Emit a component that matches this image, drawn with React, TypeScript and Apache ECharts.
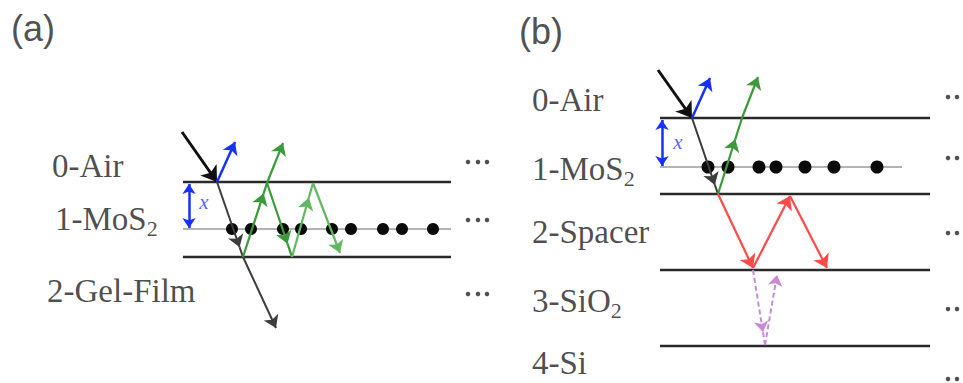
import React, { useEffect, useRef } from 'react';
import * as echarts from 'echarts';

// ---------- data (diagram coordinates, y grows downward) ----------
const panelTitles = ['(a)', '(b)'];
const panelTitleX = [11, 519];
const panelTitleY = [28, 31];

const layerLabelsA = ['0-Air', '1-MoS_2', '2-Gel-Film'];
const layerLabelXA = [52, 55, 47];
const layerLabelYA = [166, 219, 291];

const layerLabelsB = ['0-Air', '1-MoS_2', '2-Spacer', '3-SiO_2', '4-Si'];
const layerLabelXB = [532, 532, 532, 532, 532];
const layerLabelYB = [100, 169, 232, 301, 363];

const interfacesA = [182, 257];
const sheetA = 229;
const spanA = [183, 451];

const interfacesB = [118, 194, 270, 346];
const sheetB = 167;
const spanB = [660, 930];
const sheetSpanB = [660, 902];

const atomsA = [232, 251, 283, 301, 332, 351, 383, 402, 433];
const atomsB = [708, 728, 759, 776, 805, 834, 877];

const moreXA = [468, 478, 487];
const moreYA = [162, 220, 294];
const moreXB = [948, 957];
const moreYB = [97, 158, 233, 309, 379];

// segments: [x1, y1, x2, y2, arrowhead position along segment (0 none, 1 at end)]
type Seg = [number, number, number, number, number];
const incidentA: Seg[] = [[182, 132, 217, 182, 1]];
const transmitA: Seg[] = [[217, 182, 243, 257, 0.87], [243, 257, 276, 328, 1]];
const reflectA: Seg[] = [[217, 182, 235, 142, 1]];
const greenA1: Seg[] = [[243, 257, 267, 183, 0.86], [267, 183, 283, 143, 1], [267, 183, 292, 257, 0.82]];
const greenA2: Seg[] = [[292, 257, 313, 183, 0.8], [313, 183, 340, 253, 1]];
const thickA = [189, 184, 189, 228];
const thickLabelA = [204, 202];

const incidentB: Seg[] = [[658, 70, 692, 118, 1]];
const transmitB: Seg[] = [[692, 118, 718, 194, 0.88]];
const reflectB: Seg[] = [[692, 118, 710, 78, 1]];
const greenB: Seg[] = [[718, 194, 742, 118, 0.72], [742, 118, 758, 77, 1]];
const redB: Seg[] = [[718, 194, 753, 268, 1], [753, 268, 790, 196, 1], [790, 196, 827, 268, 1]];
const purpleB: Seg[] = [[753, 270, 765, 345, 0.83], [765, 345, 777, 275, 1]];
const thickB = [662, 120, 662, 166];
const thickLabelB = [678, 142];

// ---------- helpers ----------
function splitSegs(segs: Seg[]) {
  const headed: number[][][] = [];
  const plain: number[][][] = [];
  segs.forEach(([x1, y1, x2, y2, h]) => {
    if (h >= 1) headed.push([[x1, y1], [x2, y2]]);
    else if (h <= 0) plain.push([[x1, y1], [x2, y2]]);
    else {
      const mx = x1 + (x2 - x1) * h;
      const my = y1 + (y2 - y1) * h;
      headed.push([[x1, y1], [mx, my]]);
      plain.push([[mx, my], [x2, y2]]);
    }
  });
  return { headed, plain };
}

function raySeries(segs: Seg[], color: string, width: number, head: number, dashed = false): any[] {
  const { headed, plain } = splitSegs(segs);
  const base = {
    type: 'lines',
    coordinateSystem: 'cartesian2d',
    silent: true,
    z: 5,
    lineStyle: { color, width, opacity: 1, curveness: 0, type: dashed ? [5, 3] : 'solid' },
  };
  return [
    { ...base, symbol: ['none', 'arrow'], symbolSize: head, data: headed.map((c) => ({ coords: c })) },
    { ...base, symbol: 'none', data: plain.map((c) => ({ coords: c })) },
  ];
}

function hLines(ys: number[], span: number[], color: string, width: number): any {
  return {
    type: 'lines',
    coordinateSystem: 'cartesian2d',
    silent: true,
    z: 2,
    symbol: 'none',
    lineStyle: { color, width, opacity: 1 },
    data: ys.map((y) => ({ coords: [[span[0], y], [span[1], y]] })),
  };
}

function fmtLabel(name: string) {
  const i = name.indexOf('_');
  if (i < 0) return '{b|' + name + '}';
  return '{a|' + name.slice(0, i) + '}{s|' + name.slice(i + 1) + '}';
}

const serif = '"Liberation Serif", "Times New Roman", serif';

function labelSeries(names: string[], xs: number[], ys: number[]): any {
  return {
    type: 'scatter',
    silent: true,
    symbolSize: 0,
    z: 6,
    data: names.map((n, i) => [xs[i], ys[i], n]),
    label: {
      show: true,
      position: 'right',
      distance: 0,
      formatter: (p: any) => fmtLabel(p.data[2]),
      rich: {
        a: { fontFamily: serif, fontSize: 33, color: '#1e1e1e', lineHeight: 40, verticalAlign: 'middle' },
        b: { fontFamily: serif, fontSize: 33, color: '#1e1e1e', lineHeight: 30, verticalAlign: 'middle' },
        s: { fontFamily: serif, fontSize: 22, color: '#1e1e1e', lineHeight: 25, verticalAlign: 'bottom' },
      },
    },
  };
}

export default function App() {
  const ref = useRef<HTMLDivElement>(null);
  useEffect(() => {
    document.body.style.margin = '0';
    if (!ref.current) return;
    const chart = echarts.init(ref.current, undefined, { renderer: 'svg' });
    const series: any[] = [
      // interfaces
      hLines(interfacesA, spanA, '#2a2a2a', 2.3),
      hLines([sheetA], spanA, '#9a9a9a', 1.5),
      hLines(interfacesB, spanB, '#2a2a2a', 2.3),
      hLines([sheetB], sheetSpanB, '#9a9a9a', 1.5),
      // atoms
      {
        type: 'scatter', silent: true, z: 4, symbol: 'circle', symbolSize: 12,
        itemStyle: { color: '#0a0a0a', opacity: 1 },
        data: atomsA.map((x) => [x, sheetA]),
      },
      {
        type: 'scatter', silent: true, z: 4, symbol: 'circle', symbolSize: 13,
        itemStyle: { color: '#0a0a0a', opacity: 1 },
        data: atomsB.map((x) => [x, sheetB]),
      },
      // continuation dots
      {
        type: 'scatter', silent: true, z: 4, symbol: 'circle', symbolSize: 4.5,
        itemStyle: { color: '#505050', opacity: 1 },
        data: [
          ...moreYA.flatMap((y) => moreXA.map((x) => [x, y])),
          ...moreYB.flatMap((y) => moreXB.map((x) => [x, y])),
        ],
      },
      // rays panel a
      ...raySeries(incidentA, '#101010', 3, 15),
      ...raySeries(transmitA, '#3c3c3c', 2, 12),
      ...raySeries(reflectA, '#1530ff', 2.5, 12),
      ...raySeries(greenA1, '#3a9a3a', 2.2, 12),
      ...raySeries(greenA2, '#62b862', 2.2, 12),
      // rays panel b
      ...raySeries(incidentB, '#101010', 3, 15),
      ...raySeries(transmitB, '#3c3c3c', 2, 12),
      ...raySeries(reflectB, '#1530ff', 2.5, 12),
      ...raySeries(greenB, '#3a9a3a', 2.2, 12),
      ...raySeries(redB, '#ff4a4a', 2.2, 13),
      ...raySeries(purpleB, '#c88ad8', 2, 11, true),
      // thickness markers
      {
        type: 'lines', coordinateSystem: 'cartesian2d', silent: true, z: 5,
        symbol: ['arrow', 'arrow'], symbolSize: 10,
        lineStyle: { color: '#1530ff', width: 2.5, opacity: 1 },
        data: [thickA, thickB].map((t) => ({ coords: [[t[0], t[1]], [t[2], t[3]]] })),
      },
      {
        type: 'scatter', silent: true, symbolSize: 0, z: 6,
        data: [thickLabelA, thickLabelB],
        label: {
          show: true, position: 'inside', formatter: 'x',
          fontFamily: serif, fontStyle: 'italic', fontSize: 21, color: '#2a3cff',
        },
      },
      // layer labels
      labelSeries(layerLabelsA, layerLabelXA, layerLabelYA),
      labelSeries(layerLabelsB, layerLabelXB, layerLabelYB),
      // panel titles
      {
        type: 'scatter', silent: true, symbolSize: 0, z: 6,
        data: panelTitles.map((t, i) => [panelTitleX[i], panelTitleY[i], t]),
        label: {
          show: true, position: 'right', distance: 0,
          formatter: (p: any) => p.data[2],
          fontFamily: '"Liberation Sans", Arial, sans-serif', fontSize: 36, color: '#222',
        },
      },
    ];
    chart.setOption({
      animation: false,
      backgroundColor: '#ffffff',
      grid: { left: 0, right: 0, top: 0, bottom: 0, containLabel: false },
      xAxis: { type: 'value', min: 0, max: 963, show: false },
      yAxis: { type: 'value', min: 0, max: 383, inverse: true, show: false },
      tooltip: { show: false },
      series,
    });
    return () => chart.dispose();
  }, []);
  return <div ref={ref} style={{ width: 963, height: 383 }} />;
}
